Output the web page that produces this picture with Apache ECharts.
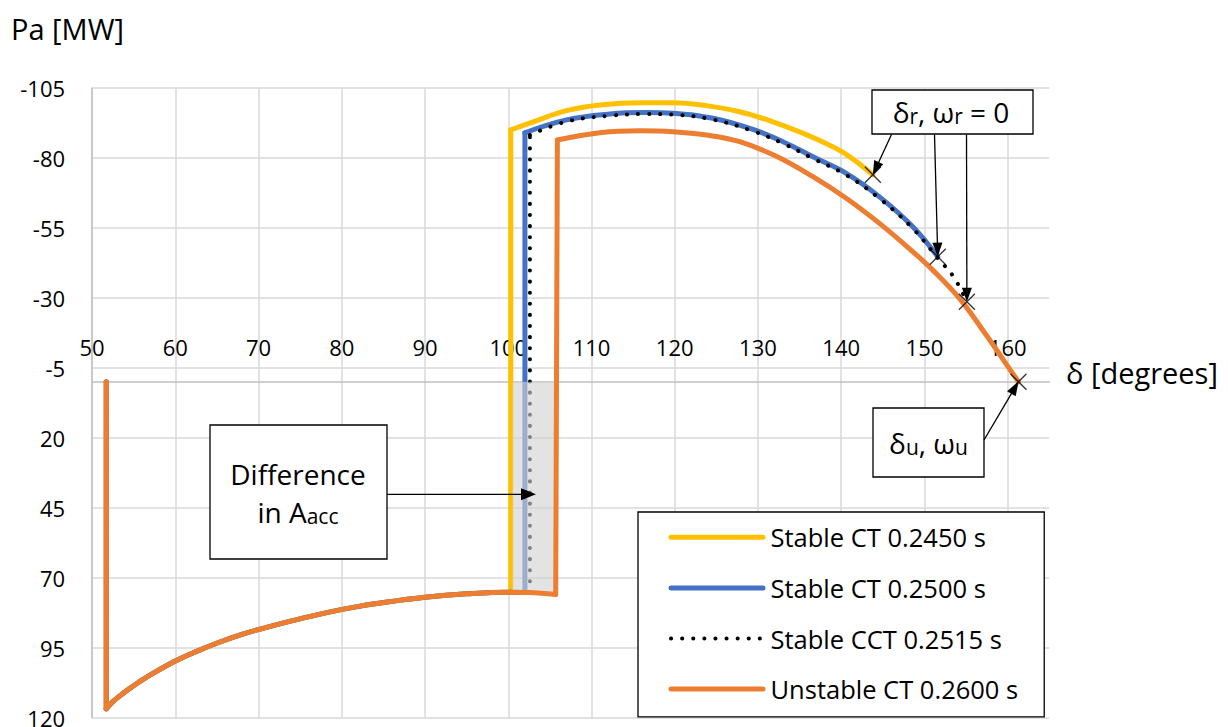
<!DOCTYPE html>
<html>
<head>
<meta charset="utf-8">
<title>Accelerating power vs rotor angle</title>
<script src="https://cdn.jsdelivr.net/npm/echarts@6/dist/echarts.min.js"></script>
<style>
  html, body { margin: 0; padding: 0; background: #fff; }
  #chart { width: 1228px; height: 727px; }
</style>
</head>
<body>
<div id="chart"></div>
<script>
// Axis ticks
const xTicks = [50, 60, 70, 80, 90, 100, 110, 120, 130, 140, 150, 160];
const yTicks = [-105, -80, -55, -30, -5, 20, 45, 70, 95, 120];

// Series names
const seriesNames = ['Stable CT 0.2450 s', 'Stable CT 0.2500 s', 'Stable CCT 0.2515 s', 'Unstable CT 0.2600 s'];

// Shared trajectory: pre-fault point, then the during-fault swing (δ in degrees, Pa in MW)
const faultDelta = [51.7, 51.7, 52.4, 53.2, 54.2, 55.6, 57.2, 60.0, 62.2, 65.2, 68.0, 70.2, 74.2, 78.2, 82.2, 86.0, 90.0, 95.0, 100.0, 102.5];
const faultPa    = [0, 116.9, 114.6, 112.6, 110.3, 107.4, 104.4, 99.8, 96.8, 93.2, 90.3, 88.4, 85.3, 82.5, 80.2, 78.5, 77.0, 75.8, 75.2, 75.3];

// Clearing jump (first two points) and post-fault swing for each clearing time
const ct2450Delta = [100.3, 100.3, 103.0, 107.0, 111.0, 115.8, 119.8, 123.8, 127.8, 131.8, 135.0, 138.0, 140.6, 143.8];
const ct2450Pa    = [75.2, -90.0, -92.9, -96.9, -98.9, -99.7, -99.7, -98.7, -96.5, -92.9, -89.3, -85.4, -81.3, -74.0];

const ct2500Delta = [102.0, 102.0, 107.0, 112.2, 116.6, 119.8, 124.6, 129.4, 133.0, 136.6, 140.6, 144.6, 148.6, 151.6];
const ct2500Pa    = [75.3, -89.0, -93.6, -95.7, -96.2, -96.0, -94.2, -90.2, -85.8, -80.4, -74.5, -66.1, -55.4, -44.7];

const cct2515Delta = [102.6, 102.6, 107.0, 112.2, 116.6, 119.8, 124.6, 129.4, 133.0, 136.6, 140.6, 144.6, 148.6, 151.6, 153.5, 155.1];
const cct2515Pa    = [75.3, -88.2, -93.0, -95.1, -95.7, -95.5, -93.7, -89.6, -85.2, -79.8, -73.9, -65.5, -54.8, -44.2, -37.5, -28.6];

const ct2600Delta = [105.7, 105.9, 111.0, 115.8, 119.8, 123.8, 127.8, 132.2, 136.6, 140.6, 144.6, 148.6, 151.0, 154.2, 157.4, 160.6, 161.3];
const ct2600Pa    = [76.0, -86.4, -89.0, -89.7, -89.4, -88.2, -85.8, -80.6, -73.3, -65.6, -56.6, -46.5, -39.9, -29.8, -16.8, -3.0, 0];

// Shaded accelerating-area difference: δ range and Pa range
const shadeDelta = [100.5, 105.7];
const shadePa = [0, 75.5];

const FONT = "'Open Sans', 'Noto Sans', sans-serif";

const pairs = (ds, ps) => ds.map((d, i) => [d, ps[i]]);
const lastPoint = (ds, ps) => [ds[ds.length - 1], ps[ps.length - 1]];

const branches = [
  { d: ct2450Delta, p: ct2450Pa, color: '#FFC000', width: 5, z: 2 },
  { d: ct2500Delta, p: ct2500Pa, color: '#4472C4', width: 5, z: 3 },
  { d: cct2515Delta, p: cct2515Pa, color: '#000000', width: 4, z: 4, dotted: true },
  { d: ct2600Delta, p: ct2600Pa, color: '#ED7D31', width: 5, z: 6 }
];

// Each trajectory is drawn in pieces sharing one name: the straight jumps keep
// their sharp corners while the swing curves are smoothed.
function trajectorySeries(b, i) {
  const fault = pairs(faultDelta, faultPa);
  const drop = fault.slice(0, 2);
  const faultCurve = fault.slice(1).filter(pt => pt[0] < b.d[0]).concat([[b.d[0], b.p[0]]]);
  const jump = pairs(b.d, b.p).slice(0, 2);
  const swing = pairs(b.d, b.p).slice(1);
  const lineStyle = b.dotted
    ? { color: b.color, width: b.width, type: [0.1, 11], cap: 'round', join: 'round' }
    : { color: b.color, width: b.width, cap: 'round', join: 'round' };
  const base = {
    name: seriesNames[i], type: 'line', symbol: 'none', z: b.z, silent: true,
    lineStyle: lineStyle, itemStyle: { color: b.color }
  };
  return [
    Object.assign({}, base, { data: drop, smooth: false }),
    Object.assign({}, base, { data: faultCurve, smooth: 0.4 }),
    Object.assign({}, base, { data: jump, smooth: false }),
    Object.assign({}, base, { data: swing, smooth: 0.4 })
  ];
}

// End points of each swing (δr, ωr = 0 and δu, ωu)
const endPoints = branches.map(b => lastPoint(b.d, b.p));

const shadeSeries = {
  name: 'Aacc difference',
  type: 'custom',
  z: 5,
  silent: true,
  data: [[shadeDelta[0], shadeDelta[1], shadePa[0], shadePa[1]]],
  encode: { x: [0, 1], y: [2, 3] },
  renderItem: function (params, api) {
    const p0 = api.coord([api.value(0), api.value(2)]);
    const p1 = api.coord([api.value(1), api.value(3)]);
    return {
      type: 'rect',
      shape: {
        x: Math.min(p0[0], p1[0]), y: Math.min(p0[1], p1[1]),
        width: Math.abs(p1[0] - p0[0]), height: Math.abs(p1[1] - p0[1])
      },
      style: { fill: 'rgba(210,210,210,0.62)' }
    };
  }
};

const markerSeries = {
  name: 'swing end',
  type: 'scatter',
  z: 7,
  silent: true,
  data: endPoints,
  symbol: 'path://M0,0L10,10M10,0L0,10',
  symbolSize: 16,
  itemStyle: { color: 'transparent', borderColor: '#000', borderWidth: 1.3 }
};

const chart = echarts.init(document.getElementById('chart'), null, { renderer: 'svg' });

const GRID = { left: 92.1, top: 88, width: 957.2, height: 629.5 };

const option = {
  animation: false,
  backgroundColor: '#ffffff',
  grid: Object.assign({ containLabel: false, outerBoundsMode: 'none' }, GRID),
  legend: {
    orient: 'vertical',
    left: 638,
    top: 512,
    padding: [10.3, 26, 12.7, 30.5],
    itemGap: 20.6,
    itemWidth: 92,
    itemHeight: 14,
    borderColor: '#000',
    borderWidth: 1.3,
    backgroundColor: '#fff',
    selectedMode: false,
    itemStyle: { opacity: 0 },
    lineStyle: { width: 5 },
    textStyle: { fontFamily: FONT, fontSize: 25.5, color: '#000', lineHeight: 30, padding: [0, 0, 0, 2.5] },
    data: seriesNames.map((n, i) => ({ name: n, lineStyle: { width: branches[i].width } }))
  },
  xAxis: {
    type: 'value',
    min: 50,
    max: 165,
    position: 'top',
    offset: 0,
    axisLine: { show: true, onZero: false, lineStyle: { color: '#BFBFBF', width: 1.5 } },
    axisTick: { show: false, customValues: xTicks },
    axisLabel: { customValues: xTicks, margin: 24, color: '#000', fontFamily: FONT, fontSize: 22 },
    splitLine: { show: true, lineStyle: { color: '#D9D9D9', width: 1.5 } }
  },
  yAxis: {
    type: 'value',
    inverse: true,
    min: -105,
    max: 120,
    axisLine: { show: true, onZero: false, lineStyle: { color: '#BFBFBF', width: 1.5 } },
    axisTick: { show: false, customValues: yTicks },
    axisLabel: { customValues: yTicks, margin: 27, color: '#000', fontFamily: FONT, fontSize: 22 },
    splitLine: { show: true, lineStyle: { color: '#D9D9D9', width: 1.5 } }
  },
  series: []
    .concat(trajectorySeries(branches[0], 0))
    .concat(trajectorySeries(branches[1], 1))
    .concat(trajectorySeries(branches[2], 2))
    .concat([shadeSeries])
    .concat(trajectorySeries(branches[3], 3))
    .concat([markerSeries])
};

chart.setOption(option);

// The δ axis crosses the Pa axis at Pa = 0: shift it down from the top edge to that level
const zeroY = chart.convertToPixel({ yAxisIndex: 0 }, 0);
chart.setOption({ xAxis: { offset: -(zeroY - GRID.top) } });

// Annotation boxes, captions and arrows
function arrow(from, to, hl, hw) {
  const dx = to[0] - from[0], dy = to[1] - from[1];
  const L = Math.hypot(dx, dy);
  const ux = dx / L, uy = dy / L;
  const bx = to[0] - ux * hl, by = to[1] - uy * hl;
  return [
    { type: 'line', z: 100, silent: true, shape: { x1: from[0], y1: from[1], x2: bx + ux, y2: by + uy },
      style: { stroke: '#000', lineWidth: 1.3 } },
    { type: 'polygon', z: 100, silent: true,
      shape: { points: [to, [bx - uy * hw, by + ux * hw], [bx + uy * hw, by - ux * hw]] },
      style: { fill: '#000' } }
  ];
}
function box(x, y, w, h) {
  return { type: 'rect', z: 99, silent: true, shape: { x: x, y: y, width: w, height: h },
    style: { fill: '#fff', stroke: '#000', lineWidth: 1.3 } };
}
function label(x, y, text, rich, size, align) {
  return { type: 'text', z: 101, silent: true,
    style: { x: x, y: y, text: text, rich: rich, fontFamily: FONT, fontSize: size, fill: '#000',
      align: align || 'center', verticalAlign: 'middle' } };
}
const subRich = {
  m: { fontFamily: FONT, fontSize: 28, fill: '#000' },
  s: { fontFamily: FONT, fontSize: 21, fill: '#000', verticalAlign: 'bottom' }
};

const endPx = endPoints.map(p => chart.convertToPixel({ gridIndex: 0 }, p));

const graphics = [
  label(11, 28.5, 'Pa [MW]', null, 29, 'left'),
  label(1066, 372.5, 'δ [degrees]', null, 29, 'left'),

  box(872, 90, 161, 44),
  label(951, 112, '{m|δ}{s|r}{m|, ω}{s|r}{m| = 0}', subRich, 28),
  ...arrow([891.5, 134.5], endPx[0], 14, 5),
  ...arrow([934.5, 134.5], endPx[1], 14, 5),
  ...arrow([966.5, 134.5], endPx[2], 14, 5),

  box(873, 408, 111, 69),
  label(928.5, 443, '{m|δ}{s|u}{m|, ω}{s|u}', subRich, 28),
  ...arrow([984, 440], endPx[3], 14, 5),

  box(210, 425, 177, 134),
  label(298, 474, 'Difference', null, 28),
  label(298, 512, '{m|in A}{s|acc}', subRich, 28),
  ...arrow([387, 494.3], [536, 494.3], 15, 6)
];

chart.setOption({ graphic: graphics });
</script>
</body>
</html>
